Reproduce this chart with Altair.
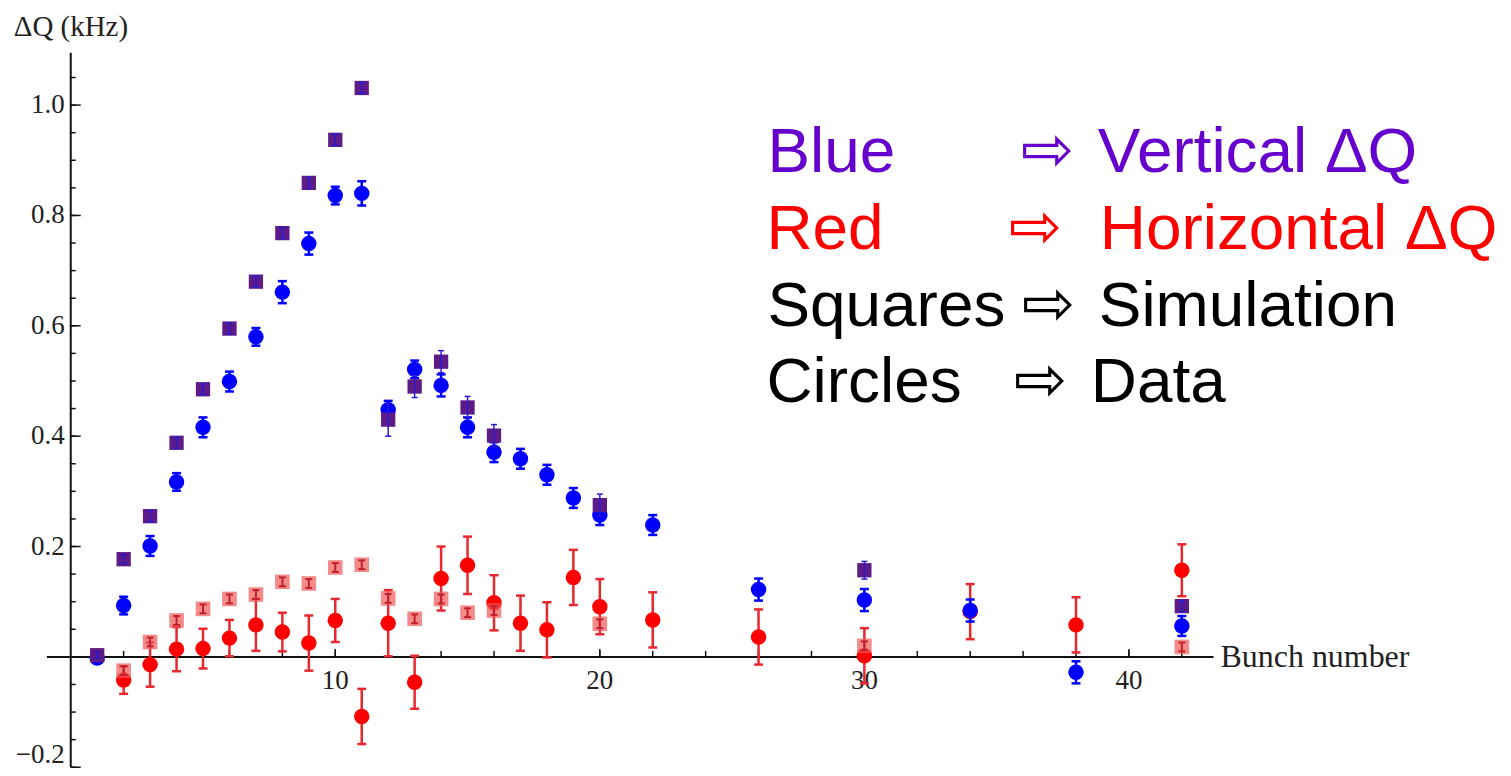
import altair as alt
import pandas as pd

# ---------------- data ----------------
# Vertical dQ, simulation (purple squares)
vsim_bunch = [1, 2, 3, 4, 5, 6, 7, 8, 9, 10, 11, 12, 13, 14, 15, 16, 20, 30, 42]
vsim_val = [0.003, 0.177, 0.255, 0.388, 0.485, 0.595, 0.680, 0.768, 0.859, 0.937,
            1.031, 0.430, 0.490, 0.535, 0.452, 0.401, 0.275, 0.157, 0.092]
vsim_err = [0.005, 0.008, 0.010, 0.010, 0.010, 0.010, 0.010, 0.010, 0.010, 0.010,
            0.010, 0.030, 0.020, 0.020, 0.020, 0.020, 0.020, 0.016, 0.010]

# Vertical dQ, data (blue circles)
vdat_bunch = [1, 2, 3, 4, 5, 6, 7, 8, 9, 10, 11, 12, 13, 14, 15, 16, 17, 18, 19, 20,
              22, 26, 30, 34, 38, 42]
vdat_val = [-0.002, 0.093, 0.201, 0.317, 0.416, 0.499, 0.580, 0.661, 0.749, 0.836,
            0.840, 0.448, 0.521, 0.492, 0.416, 0.371, 0.359, 0.330, 0.288, 0.257,
            0.239, 0.122, 0.103, 0.084, -0.028, 0.056]
vdat_err = [0.006, 0.016, 0.018, 0.016, 0.018, 0.018, 0.016, 0.020, 0.020, 0.016,
            0.022, 0.016, 0.016, 0.020, 0.018, 0.018, 0.018, 0.018, 0.018, 0.018,
            0.018, 0.020, 0.020, 0.020, 0.020, 0.018]

# Horizontal dQ, simulation (light red squares)
hsim_bunch = [2, 3, 4, 5, 6, 7, 8, 9, 10, 11, 12, 13, 14, 15, 16, 20, 30, 42]
hsim_val = [-0.025, 0.027, 0.066, 0.087, 0.105, 0.113, 0.136, 0.133, 0.162, 0.167,
            0.106, 0.069, 0.105, 0.080, 0.084, 0.060, 0.020, 0.018]
hsim_err = [0.008] * len(hsim_bunch)

# Horizontal dQ, data (red circles)
hdat_bunch = [2, 3, 4, 5, 6, 7, 8, 9, 10, 11, 12, 13, 14, 15, 16, 17, 18, 19, 20,
              22, 26, 30, 34, 38, 42]
hdat_val = [-0.042, -0.014, 0.014, 0.015, 0.034, 0.058, 0.045, 0.025, 0.066, -0.108,
            0.061, -0.046, 0.142, 0.166, 0.098, 0.061, 0.049, 0.144, 0.091, 0.067,
            0.036, 0.002, 0.082, 0.058, 0.157]
hdat_err = [0.025, 0.040, 0.040, 0.036, 0.033, 0.047, 0.035, 0.050, 0.039, 0.050,
            0.060, 0.048, 0.058, 0.052, 0.050, 0.050, 0.050, 0.050, 0.050, 0.050,
            0.050, 0.050, 0.050, 0.050, 0.047]

# axis ticks / labels
y_major = [0.2, 0.4, 0.6, 0.8, 1.0]
y_major_labels = ["0.2", "0.4", "0.6", "0.8", "1.0"]
y_bottom = [-0.2]
y_bottom_labels = ["\u22120.2"]
y_minor = [round(-0.2 + 0.05 * i, 2) for i in range(26)]
x_major = [10, 20, 30, 40]
x_major_labels = ["10", "20", "30", "40"]
x_minor = list(range(2, 44, 2))

legend_left = ["Blue", "Red", "Squares", "Circles"]
legend_right = ["Vertical \u0394Q", "Horizontal \u0394Q", "Simulation", "Data"]
legend_colors = ["#6600cc", "#ff0000", "#000000", "#000000"]

x_title = "Bunch number"
y_title = "\u0394Q (kHz)"

# ---------------- chart ----------------
XDOM = [-0.9, 43.2]
YDOM = [-0.2, 1.095]
SERIF = "Liberation Serif"
SANS = "Liberation Sans, DejaVu Sans"
AXC = "#111111"
TXC = "#222222"


def X(f):
    return alt.X(f, type="quantitative", axis=None,
                 scale=alt.Scale(domain=XDOM, nice=False, zero=False))


def Y(f):
    return alt.Y(f, type="quantitative", axis=None,
                 scale=alt.Scale(domain=YDOM, nice=False, zero=False))


def frame(b, v, e):
    return pd.DataFrame({"b": b, "v": v,
                         "lo": [vv - ee for vv, ee in zip(v, e)],
                         "hi": [vv + ee for vv, ee in zip(v, e)]})


def errbars(df, color, sw, capw):
    base = alt.Chart(df)
    out = [base.mark_rule(color=color, strokeWidth=sw).encode(
        x=X("b"), y=Y("lo"), y2=alt.Y2("hi"))]
    for f in ["lo", "hi"]:
        out.append(base.mark_rule(color=color, strokeWidth=sw,
                                  xOffset=-capw, x2Offset=capw).encode(
            x=X("b"), x2=alt.X2("b"), y=Y(f)))
    return out


def points(df, mark, color, size, opacity=1.0):
    c = alt.Chart(df)
    if mark == "circle":
        c = c.mark_circle(color=color, size=size, opacity=opacity)
    else:
        c = c.mark_square(color=color, size=size, opacity=opacity)
    return c.encode(x=X("b"), y=Y("v"))


layers = []

# axis lines
axes_df = pd.DataFrame({"x0": [0.0, XDOM[0]], "x1": [0.0, XDOM[1]],
                        "y0": [YDOM[0], 0.0], "y1": [YDOM[1], 0.0]})
layers.append(alt.Chart(axes_df).mark_rule(color=AXC, strokeWidth=2).encode(
    x=X("x0"), x2=alt.X2("x1"), y=Y("y0"), y2=alt.Y2("y1")))

# y ticks
ymin_df = pd.DataFrame({"t": y_minor, "z": [0.0] * len(y_minor)})
layers.append(alt.Chart(ymin_df).mark_rule(color=AXC, strokeWidth=1.5, x2Offset=5).encode(
    y=Y("t"), x=X("z"), x2=alt.X2("z")))
ymaj_df = pd.DataFrame({"t": y_major + y_bottom, "z": [0.0] * (len(y_major) + 1)})
layers.append(alt.Chart(ymaj_df).mark_rule(color=AXC, strokeWidth=1.5, x2Offset=10).encode(
    y=Y("t"), x=X("z"), x2=alt.X2("z")))
ylab_df = pd.DataFrame({"t": y_major, "lab": y_major_labels, "z": [0.0] * len(y_major)})
layers.append(alt.Chart(ylab_df).mark_text(font=SERIF, fontSize=27, color=TXC,
                                           align="right", baseline="middle", dx=-6).encode(
    y=Y("t"), x=X("z"), text=alt.Text("lab:N")))
ybot_df = pd.DataFrame({"t": y_bottom, "lab": y_bottom_labels, "z": [0.0]})
layers.append(alt.Chart(ybot_df).mark_text(font=SERIF, fontSize=27, color=TXC,
                                           align="right", baseline="middle", dx=-6,
                                           dy=-12).encode(
    y=Y("t"), x=X("z"), text=alt.Text("lab:N")))

# x ticks
xmin_df = pd.DataFrame({"t": x_minor, "z": [0.0] * len(x_minor)})
layers.append(alt.Chart(xmin_df).mark_rule(color=AXC, strokeWidth=1.5, y2Offset=-6).encode(
    x=X("t"), y=Y("z"), y2=alt.Y2("z")))
xmaj_df = pd.DataFrame({"t": x_major, "lab": x_major_labels, "z": [0.0] * len(x_major)})
layers.append(alt.Chart(xmaj_df).mark_rule(color=AXC, strokeWidth=1.5, y2Offset=-8).encode(
    x=X("t"), y=Y("z"), y2=alt.Y2("z")))
layers.append(alt.Chart(xmaj_df).mark_text(font=SERIF, fontSize=27, color=TXC,
                                           align="center", baseline="middle", dy=24).encode(
    x=X("t"), y=Y("z"), text=alt.Text("lab:N")))

# axis titles
xt_df = pd.DataFrame({"x": [XDOM[1]], "y": [0.0], "lab": [x_title]})
layers.append(alt.Chart(xt_df).mark_text(font=SERIF, fontSize=32, color=TXC,
                                         align="left", baseline="middle", dx=7).encode(
    x=X("x"), y=Y("y"), text=alt.Text("lab:N")))
yt_df = pd.DataFrame({"x": [0.0], "y": [YDOM[1]], "lab": [y_title]})
layers.append(alt.Chart(yt_df).mark_text(font=SERIF, fontSize=29, color=TXC,
                                         align="left", baseline="middle", dx=-57, dy=-26).encode(
    x=X("x"), y=Y("y"), text=alt.Text("lab:N")))

# series
hsim = frame(hsim_bunch, hsim_val, hsim_err)
hdat = frame(hdat_bunch, hdat_val, hdat_err)
vdat = frame(vdat_bunch, vdat_val, vdat_err)
vsim = frame(vsim_bunch, vsim_val, vsim_err)

layers += errbars(hdat, "#e8282e", 2.5, 4.5)
layers.append(points(hdat, "circle", "#ff0000", 240))
layers.append(points(hsim, "square", "#f05a5a", 215, 0.7))
layers += errbars(hsim, "#c0202a", 2, 3.5)
layers += errbars(vdat, "#0000ff", 2.5, 4.5)
layers.append(points(vdat, "circle", "#0000ff", 240))
layers.append(points(vsim, "square", "#5e1a86", 205))
layers += errbars(vsim, "#2a1ad0", 1.5, 3)

# legend text (pixel placement of the annotation block)
OX, OY = 47, 52
row_base = [172, 249, 326, 402]
left_x = [769, 768, 769, 768]
arrow_x = [1023, 1011, 1024, 1016]
right_x = [1100, 1102, 1101, 1093]
for i in range(4):
    seg = pd.DataFrame({"s": [legend_left[i]], "a": ["\u21e8"], "r": [legend_right[i]]})
    layers.append(alt.Chart(seg).mark_text(font=SANS, fontSize=64, align="left",
                                           baseline="alphabetic", color=legend_colors[i]).encode(
        x=alt.value(left_x[i] - OX), y=alt.value(row_base[i] - OY), text=alt.Text("s:N")))
    layers.append(alt.Chart(seg).mark_text(font="DejaVu Sans", fontSize=64, align="left",
                                           baseline="alphabetic", color=legend_colors[i]).encode(
        x=alt.value(arrow_x[i] - OX), y=alt.value(row_base[i] - OY - 1), text=alt.Text("a:N")))
    layers.append(alt.Chart(seg).mark_text(font=SANS, fontSize=64, align="left",
                                           baseline="alphabetic", color=legend_colors[i]).encode(
        x=alt.value(right_x[i] - OX), y=alt.value(row_base[i] - OY), text=alt.Text("r:N")))

chart = alt.layer(*layers).properties(
    width=1169, height=716,
    autosize=alt.AutoSizeParams(type="none"),
    padding={"left": 39, "top": 44, "right": 290, "bottom": 0},
    background="white",
).configure_view(strokeWidth=0)

chart.save("out.html", embed_options={"renderer": "svg", "actions": False})
